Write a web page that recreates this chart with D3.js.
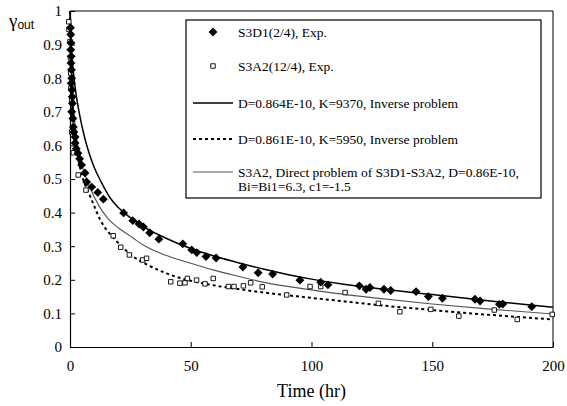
<!DOCTYPE html>
<html>
<head>
<meta charset="utf-8">
<script src="https://cdn.jsdelivr.net/npm/d3@7"></script>
<style>
  html, body { margin: 0; padding: 0; background: #fff; }
  svg { display: block; }
  svg text { font-family: "Liberation Serif", "Times New Roman", Times, "DejaVu Serif", serif !important; fill: #000; }
  svg text tspan.sans { font-family: "Liberation Sans", Arial, "DejaVu Sans", sans-serif !important; }
</style>
</head>
<body>
<svg id="chart" width="567" height="406"></svg>
<script>
// Tick values
const xTicks = [0, 50, 100, 150, 200];
const yTicks = [0, 0.1, 0.2, 0.3, 0.4, 0.5, 0.6, 0.7, 0.8, 0.9, 1];

// S3D1(2/4) measured points: [time (hr), gamma_out]
const s3d1Exp = [
  [0.2, 0.95], [0.3, 0.93], [0.4, 0.905], [0.3, 0.885], [0.5, 0.865], [0.4, 0.845],
  [0.6, 0.825], [0.7, 0.80], [0.5, 0.785], [0.8, 0.765], [0.9, 0.745], [1.0, 0.725],
  [0.7, 0.70], [1.2, 0.68], [1.4, 0.655], [1.6, 0.64], [2.1, 0.625], [2.1, 0.607],
  [2.6, 0.59], [3.3, 0.577], [4.0, 0.56], [4.8, 0.542], [6.2, 0.518], [6.9, 0.491],
  [9.0, 0.476], [11.5, 0.46], [13.8, 0.44], [22.2, 0.399], [26.0, 0.376], [28.6, 0.366],
  [30.4, 0.357], [33.0, 0.34], [36.8, 0.321], [46.7, 0.307], [50.4, 0.289], [52.5, 0.281],
  [56.3, 0.269], [60.5, 0.265], [71.6, 0.238], [77.9, 0.221], [83.9, 0.217], [95.2, 0.199],
  [103.8, 0.193], [106.8, 0.185], [119.8, 0.182], [122.6, 0.172], [124.2, 0.177], [130.0, 0.172],
  [132.8, 0.168], [143.3, 0.165], [148.4, 0.15], [154.2, 0.145], [167.7, 0.142], [169.8, 0.137],
  [177.8, 0.127], [179.2, 0.128], [191.2, 0.12]
];

// S3A2(12/4) measured points: [time (hr), gamma_out]
const s3a2Exp = [
  [-0.5, 0.968], [-0.4, 0.945], [0.0, 0.909], [0.2, 0.86], [0.3, 0.815], [0.4, 0.77],
  [0.7, 0.735], [0.7, 0.64], [1.4, 0.578], [3.4, 0.512], [6.6, 0.467], [17.9, 0.331],
  [21.0, 0.297], [24.6, 0.274], [30.1, 0.259], [31.7, 0.264], [41.7, 0.194], [45.5, 0.19],
  [47.6, 0.191], [48.6, 0.204], [52.4, 0.199], [55.9, 0.188], [59.3, 0.204], [65.6, 0.18],
  [67.9, 0.18], [71.8, 0.182], [74.8, 0.191], [79.6, 0.179], [89.7, 0.155], [99.4, 0.18],
  [103.8, 0.18], [113.9, 0.162], [127.7, 0.13], [136.6, 0.105], [149.4, 0.112], [161.0, 0.092],
  [175.7, 0.11], [185.2, 0.082], [199.7, 0.097]
];

// Inverse problem, D=0.864E-10, K=9370
const fitK9370 = [
  [0, 1], [0.2, 0.95], [0.5, 0.9], [1, 0.85], [2, 0.78], [3, 0.73], [4, 0.69], [6, 0.625],
  [8, 0.575], [10, 0.535], [13, 0.49], [16.5, 0.445], [20, 0.415], [25, 0.385], [30, 0.36],
  [40, 0.323], [50, 0.293], [60, 0.27], [70, 0.25], [80, 0.232], [90, 0.216], [100, 0.202],
  [112, 0.188], [125, 0.176], [150, 0.156], [175, 0.136], [200, 0.118]
];

// Inverse problem, D=0.861E-10, K=5950
const fitK5950 = [
  [0, 1], [0.3, 0.86], [1, 0.73], [2, 0.64], [3, 0.58], [5, 0.51], [8, 0.455], [10, 0.42],
  [12.4, 0.38], [15, 0.35], [18, 0.325], [22, 0.295], [26, 0.27], [32, 0.245], [40, 0.219],
  [50, 0.197], [60, 0.183], [72, 0.17], [85, 0.158], [95, 0.15], [112, 0.137], [130, 0.123],
  [150, 0.11], [175, 0.095], [200, 0.082]
];

// Direct problem of S3D1-S3A2, D=0.86E-10, Bi=Bi1=6.3, c1=-1.5
const directS3A2 = [
  [0, 1], [0.3, 0.88], [1, 0.76], [2, 0.67], [3, 0.61], [5, 0.54], [8, 0.48], [12, 0.42],
  [16, 0.38], [20, 0.355], [26, 0.325], [30, 0.305], [40, 0.272], [50, 0.249], [60, 0.228],
  [70, 0.21], [80, 0.193], [100, 0.17], [112, 0.158], [125, 0.147], [150, 0.128],
  [175, 0.112], [200, 0.098]
];

const legendLabels = [
  "S3D1(2/4), Exp.",
  "S3A2(12/4), Exp.",
  "D=0.864E-10, K=9370, Inverse problem",
  "D=0.861E-10, K=5950, Inverse problem",
  ["S3A2, Direct problem of S3D1-S3A2, D=0.86E-10,", "Bi=Bi1=6.3, c1=-1.5"]
];

const svg = d3.select("#chart");
const plot = { left: 70, right: 553, top: 11, bottom: 347 };

const x = d3.scaleLinear().domain([0, 200]).range([plot.left, plot.right]);
const y = d3.scaleLinear().domain([0, 1]).range([plot.bottom, plot.top]);

// Frame on top and right
svg.append("path")
  .attr("d", `M${plot.left},${plot.top}H${plot.right}V${plot.bottom}`)
  .attr("fill", "none").attr("stroke", "#000").attr("stroke-width", 1);

// Axes with inward ticks
const xAxis = svg.append("g")
  .attr("transform", `translate(0,${plot.bottom})`)
  .call(d3.axisBottom(x).tickValues(xTicks).tickSizeInner(-5).tickSizeOuter(0)
        .tickPadding(13).tickFormat(d3.format("d")));
const yAxis = svg.append("g")
  .attr("transform", `translate(${plot.left},0)`)
  .call(d3.axisLeft(y).tickValues(yTicks).tickSizeInner(-5).tickSizeOuter(0)
        .tickPadding(8).tickFormat(d => d === 0 || d === 1 ? String(d) : d3.format(".1f")(d)));

[xAxis, yAxis].forEach(g => {
  g.attr("font-family", null);
  g.selectAll("path.domain").attr("stroke", "#000").attr("stroke-width", 1.2);
  g.selectAll(".tick line").attr("stroke", "#000").attr("stroke-width", 1);
  g.selectAll(".tick text").attr("font-size", 15).attr("fill", "#000");
});

// Axis titles
svg.append("text")
  .attr("x", (plot.left + plot.right) / 2).attr("y", 397)
  .attr("text-anchor", "middle").attr("font-size", 18)
  .text("Time (hr)");

const yTitle = svg.append("text").attr("x", 9).attr("y", 27);
yTitle.append("tspan").attr("font-size", 19).text("γ");
yTitle.append("tspan").attr("class", "sans")
  .attr("font-size", 12).attr("dy", 2).text("out");

// Curves
const line = d3.line().x(d => x(d[0])).y(d => y(d[1])).curve(d3.curveMonotoneX);

svg.append("path").datum(directS3A2).attr("d", line)
  .attr("fill", "none").attr("stroke", "#555").attr("stroke-width", 1.1);
svg.append("path").datum(fitK5950).attr("d", line)
  .attr("fill", "none").attr("stroke", "#000").attr("stroke-width", 2)
  .attr("stroke-dasharray", "3,3");
svg.append("path").datum(fitK9370).attr("d", line)
  .attr("fill", "none").attr("stroke", "#000").attr("stroke-width", 1.5);

// Markers
const diamond = d3.symbol().type(d3.symbolDiamond2).size(50);
const square = d3.symbol().type(d3.symbolSquare).size(20);

svg.append("g").selectAll("path").data(s3a2Exp).join("path")
  .attr("transform", d => `translate(${x(d[0])},${y(d[1])})`)
  .attr("d", square).attr("fill", "#fff").attr("stroke", "#000").attr("stroke-width", 0.9);

svg.append("g").selectAll("path").data(s3d1Exp).join("path")
  .attr("transform", d => `translate(${x(d[0])},${y(d[1])})`)
  .attr("d", diamond).attr("fill", "#000");

// Legend
const lg = svg.append("g");
lg.append("rect").attr("x", 186).attr("y", 20).attr("width", 355).attr("height", 178)
  .attr("fill", "#fff").attr("stroke", "#000").attr("stroke-width", 1.2);

const rowY = [32, 66, 103, 139, 172];
const sx0 = 193, sx1 = 233, tx = 238;

lg.append("path").attr("transform", `translate(213,${rowY[0]})`).attr("d", diamond).attr("fill", "#000");
lg.append("path").attr("transform", `translate(213,${rowY[1]})`).attr("d", square)
  .attr("fill", "#fff").attr("stroke", "#000").attr("stroke-width", 0.9);
lg.append("line").attr("x1", sx0).attr("x2", sx1).attr("y1", rowY[2]).attr("y2", rowY[2])
  .attr("stroke", "#000").attr("stroke-width", 1.5);
lg.append("line").attr("x1", sx0).attr("x2", sx1).attr("y1", rowY[3]).attr("y2", rowY[3])
  .attr("stroke", "#000").attr("stroke-width", 2).attr("stroke-dasharray", "3,3");
lg.append("line").attr("x1", sx0).attr("x2", sx1).attr("y1", rowY[4]).attr("y2", rowY[4])
  .attr("stroke", "#555").attr("stroke-width", 1.1);

legendLabels.forEach((lab, i) => {
  const t = lg.append("text").attr("x", tx).attr("y", rowY[i]).attr("font-size", 13.5);
  if (Array.isArray(lab)) {
    lab.forEach((s, j) => t.append("tspan").attr("x", tx).attr("dy", j === 0 ? "0.35em" : "1.05em").text(s));
  } else {
    t.attr("dy", "0.35em").text(lab);
  }
});
</script>
</body>
</html>
